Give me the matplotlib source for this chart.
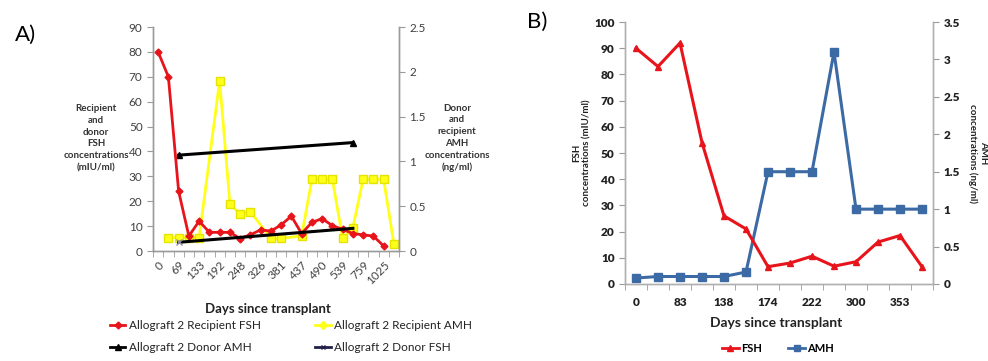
import numpy as np
import matplotlib.pyplot as plt
from matplotlib.lines import Line2D
from matplotlib.ticker import FuncFormatter

plt.rcParams['font.family'] = ['Lato', 'DejaVu Sans']

# ---- Panel A data (24 categories, labels on every other one) ----
a_labels = ['0', '69', '133', '192', '248', '326', '381', '437', '490', '539', '759', '1025']
a_n = 24
recip_fsh = [80, 70, 24, 6, 12, 7.5, 7.5, 7.5, 5, 6.5, 8.5, 8, 10.5, 14, 7, 11.5,
             13, 10.2, 8.7, 7, 6.5, 6, 2]
recip_amh = [np.nan, 0.15, 0.15, 0.15, 0.15, np.nan, 1.9, 0.53, 0.41, 0.44, np.nan, 0.14,
             0.14, np.nan, 0.17, 0.8, 0.8, 0.8, 0.14, 0.26, 0.8, 0.8, 0.8, 0.08]
donor_idx = [2, 19]
donor_amh = [1.07, 1.21]
donor_fsh = [3.5, 9.1]

# ---- Panel B data (14 categories) ----
b_labels = ['0', '83', '138', '174', '222', '300', '353']
b_fsh = [90, 83, 92, 54, 26, 21, 6.6, 8, 10.6, 6.8, 8.5, 16, 18.5, 6.6]
b_amh = [0.08, 0.1, 0.1, 0.1, 0.1, 0.16, 1.5, 1.5, 1.5, 3.1, 1.0, 1.0, 1.0, 1.0]

W, H = 988, 361
fig = plt.figure(figsize=(W / 100, H / 100), dpi=100)


def px_axes(x0, y0, x1, y1):
    return fig.add_axes([x0 / W, 1 - y1 / H, (x1 - x0) / W, (y1 - y0) / H])


spine_col = '#9a9a9a'
tick_col = '#404040'
red = '#e8141c'
yellow = '#ffff1a'

# ================= Panel A =================
axA = px_axes(153, 27, 399, 251)
axA2 = axA.twinx()
x = np.arange(a_n)

xf = np.arange(len(recip_fsh))
axA.plot(xf, recip_fsh, color=red, lw=2, marker='D', ms=3.5, zorder=3)
ya = np.array(recip_amh)
ok = ~np.isnan(ya)
axA2.plot(x[ok], ya[ok], color=yellow, lw=2, marker='s', ms=5.5,
          mec='#e4e400', zorder=2)
axA2.plot(donor_idx, donor_amh, color='black', lw=2.2, marker='^', ms=4, zorder=4)
axA.plot(donor_idx, donor_fsh, color='black', lw=2.2, zorder=4)
axA.plot(donor_idx[:1], donor_fsh[:1], ls='none', marker='x', ms=4,
         color='#8a8ab0', mew=1, zorder=5)

axA.set_zorder(axA2.get_zorder() + 1)
axA.patch.set_visible(False)

axA.set_xlim(-0.5, a_n - 0.5)
axA.set_ylim(0, 90)
axA2.set_ylim(0, 2.5)
axA.set_yticks(range(0, 91, 10))
axA2.set_yticks(np.arange(0, 2.51, 0.5))
axA2.yaxis.set_major_formatter(FuncFormatter(lambda v, p: '%g' % v))
axA.set_xticks(range(0, a_n - 1, 2))
axA.set_xticklabels(a_labels, rotation=45, ha='right', va='top',
                    rotation_mode='anchor')
axA.set_xticks(np.arange(-0.5, a_n, 1), minor=True)
axA.tick_params(axis='x', which='major', length=0, pad=6, labelsize=8.5,
                labelcolor=tick_col)
axA.tick_params(axis='x', which='minor', length=4, color=spine_col, direction='out')
axA.tick_params(axis='y', length=4, color=spine_col, labelsize=8.5, labelcolor=tick_col)
axA2.tick_params(axis='y', length=4, color=spine_col, labelsize=8.5, labelcolor=tick_col)
for a in (axA, axA2):
    a.spines['top'].set_visible(False)
    for s in ('left', 'right', 'bottom'):
        a.spines[s].set_color(spine_col)
        a.spines[s].set_linewidth(1)

fig.text(25 / W, 1 - 35 / H, 'A)', fontsize=16, ha='center', va='center')
fig.text(96 / W, 1 - 138 / H,
         'Recipient\nand\ndonor\nFSH\nconcentrations\n(mIU/ml)',
         fontsize=7, fontweight='bold', ha='center', va='center',
         color='#333333', linespacing=1.4)
fig.text(457 / W, 1 - 138 / H,
         'Donor\nand\nrecipient\nAMH\nconcentrations\n(ng/ml)',
         fontsize=7, fontweight='bold', ha='center', va='center',
         color='#333333', linespacing=1.4)
fig.text(268 / W, 1 - 309 / H, 'Days since transplant', fontsize=9.5,
         fontweight='bold', ha='center', va='center', color='#222222')

hA = [Line2D([], [], color=red, lw=2, marker='D', ms=3.5),
      Line2D([], [], color='black', lw=2, marker='^', ms=4),
      Line2D([], [], color=yellow, lw=2, marker='D', ms=4),
      Line2D([], [], color='#20204a', lw=2, marker='x', ms=3)]
lA = ['Allograft 2 Recipient FSH', 'Allograft 2 Donor AMH',
      'Allograft 2 Recipient AMH', 'Allograft 2 Donor FSH']
fig.legend(hA, lA, ncol=2, loc='upper left',
           bbox_to_anchor=(110 / W, 1 - 320 / H), frameon=False, fontsize=8.5,
           handlelength=1.3, handletextpad=0.3, columnspacing=4.6,
           labelspacing=0.95, borderaxespad=0, borderpad=0,
           labelcolor='#222222')

# ================= Panel B =================
axB = px_axes(625, 22, 933, 284)
axB2 = axB.twinx()
xb = np.arange(len(b_fsh))
blue = '#3c6aa5'
axB.plot(xb, b_fsh, color=red, lw=2.2, marker='^', ms=5, zorder=3)
axB2.plot(xb, b_amh, color=blue, lw=2.2, marker='s', ms=6, zorder=2)
axB.set_zorder(axB2.get_zorder() + 1)
axB.patch.set_visible(False)

axB.set_xlim(-0.5, len(b_fsh) - 0.5)
axB.set_ylim(0, 100)
axB2.set_ylim(0, 3.5)
axB.set_yticks(range(0, 101, 10))
axB2.set_yticks(np.arange(0, 3.51, 0.5))
axB2.yaxis.set_major_formatter(FuncFormatter(lambda v, p: '%g' % v))
axB.set_xticks(range(0, len(b_fsh) - 1, 2))
axB.set_xticklabels(b_labels)
axB.set_xticks(np.arange(-0.5, len(b_fsh), 1), minor=True)
axB.tick_params(axis='x', which='major', length=0, pad=9, labelsize=8.5)
axB.tick_params(axis='x', which='minor', length=4, color=spine_col, direction='out')
axB.tick_params(axis='y', length=4, color=spine_col, labelsize=8.5)
axB2.tick_params(axis='y', length=4, color=spine_col, labelsize=8.5)
for a in (axB, axB2):
    for lab in a.get_xticklabels() + a.get_yticklabels():
        lab.set_fontweight('heavy')
        lab.set_color('#222222')
    a.spines['top'].set_visible(False)
    for s in ('left', 'right', 'bottom'):
        a.spines[s].set_color('#b0b0b0')
        a.spines[s].set_linewidth(1)

fig.text(537 / W, 1 - 22 / H, 'B)', fontsize=16, ha='center', va='center')
fig.text(582 / W, 1 - 153 / H, 'FSH\nconcentrations (mIU/ml)', fontsize=7,
         fontweight='bold', rotation=90, ha='center', va='center',
         color='#222222', linespacing=1.1)
fig.text(978 / W, 1 - 153 / H, 'AMH\nconcentrations (ng/ml)', fontsize=7,
         fontweight='bold', rotation=270, ha='center', va='center',
         color='#222222', linespacing=1.1)
fig.text(776 / W, 1 - 323 / H, 'Days since transplant', fontsize=10,
         fontweight='bold', ha='center', va='center', color='#222222')

hB = [Line2D([], [], color=red, lw=2, marker='^', ms=4),
      Line2D([], [], color=blue, lw=2, marker='s', ms=4.5)]
fig.legend(hB, ['FSH', 'AMH'], ncol=2, loc='center left',
           bbox_to_anchor=(722 / W, 1 - 348 / H), frameon=False,
           handlelength=1.5, handletextpad=0.2, columnspacing=2.4,
           borderaxespad=0, borderpad=0, prop={'weight': 'bold', 'size': 8})

fig.savefig('out.png', dpi=100)
